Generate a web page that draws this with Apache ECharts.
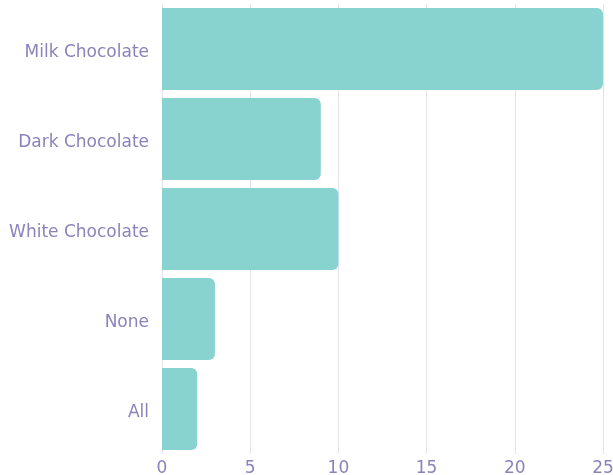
<!DOCTYPE html>
<html><head><meta charset="utf-8">
<script src="https://cdn.jsdelivr.net/npm/echarts@6/dist/echarts.min.js"></script>
<style>html,body{margin:0;padding:0;background:#fff}#c{width:613px;height:475px}</style>
</head><body><div id="c"></div>
<script>
const categories = ["Milk Chocolate","Dark Chocolate","White Chocolate","None","All"];
const values = [25, 9, 10, 3, 2];
const xTicks = [0,5,10,15,20,25];

const chart = echarts.init(document.getElementById('c'), null, {renderer:'canvas'});
const labelColor = '#8c82bb';
const fontFamily = '"DejaVu Sans", sans-serif';
chart.setOption({
  animation:false,
  grid:{left:162, right:10, top:4, height:450, containLabel:false, outerBoundsMode:'none'},
  xAxis:{type:'value', min:0, max:25, interval:5,
    axisLine:{show:false}, axisTick:{show:false},
    splitLine:{show:true, lineStyle:{color:'#e4e2ee', width:1}},
    axisLabel:{color:labelColor, fontSize:17, fontFamily:fontFamily, margin:6,
      formatter:v=>xTicks.includes(v)?String(v):''}},
  yAxis:{type:'category', data:categories, inverse:true,
    axisLine:{show:false}, axisTick:{show:false}, splitLine:{show:false},
    axisLabel:{color:labelColor, fontSize:17, fontFamily:fontFamily, margin:13,
      formatter:v=>'{a|'+v+'}',
      rich:{a:{color:labelColor, fontSize:17, fontFamily:fontFamily, padding:[7,0,0,0]}}}},
  series:[{type:'bar', data:values, barCategoryGap:'9%',
    itemStyle:{color:'#88d3cf', borderRadius:[0,6,6,0]}}]
});
</script></body></html>
